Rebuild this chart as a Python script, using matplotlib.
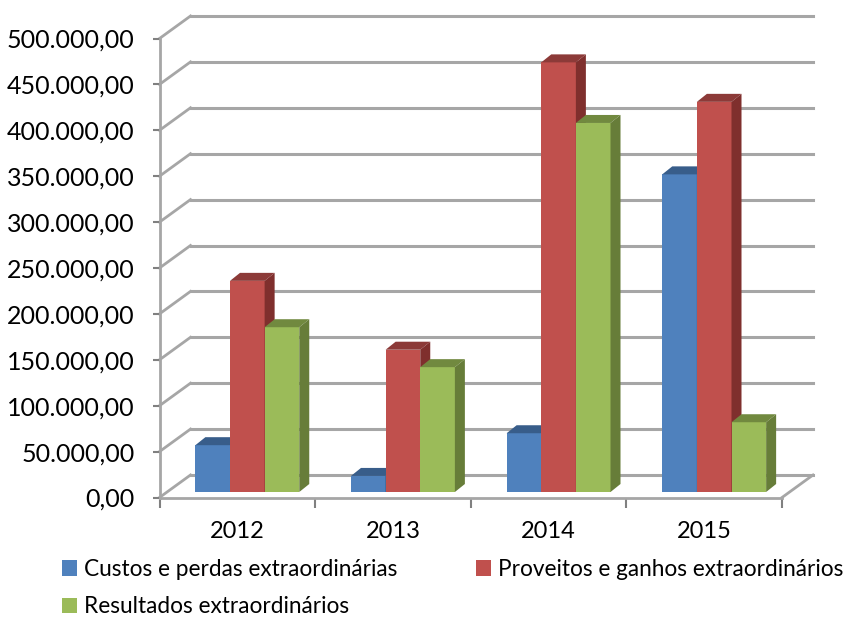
import matplotlib
matplotlib.use("Agg")
from matplotlib import pyplot as plt
from matplotlib.patches import Polygon
from matplotlib.transforms import Affine2D, IdentityTransform

years = ["2012", "2013", "2014", "2015"]
custos = [51000, 17500, 64000, 346000]
proveitos = [230000, 155000, 468000, 425000]
resultados = [179500, 136000, 402000, 76000]
names = ["Custos e perdas extraordinárias", "Proveitos e ganhos extraordinários", "Resultados extraordinários"]
y_ticks = list(range(0, 500001, 50000))

colors = ["#4F81BD", "#C0504D", "#9BBB59"]
top_colors = ["#385D8A", "#8C3A38", "#71893F"]
side_colors = ["#2F5077", "#7F2F2D", "#677D39"]
grid_color = "#A6A6A6"

W, H = 846, 617
plt.rcParams["font.family"] = ["Lato", "DejaVu Sans"]

fig = plt.figure(figsize=(W / 100, H / 100), dpi=100)
ax = fig.add_axes([159.5 / W, 1 - 497.5 / H, 622.5 / W, 459 / H])
ax.set_xlim(-0.5, 3.5)
ax.set_ylim(0, 500000)

# pseudo 3d: everything is shifted in pixels from the data position
wall_dx, wall_dy = 31, 22.5
bar_dx, bar_dy = 10, 5.5
depth_dx, depth_dy = 10, 8
wall = ax.transData + Affine2D().translate(wall_dx, wall_dy)
front = ax.transData + Affine2D().translate(bar_dx, bar_dy)
pixels = IdentityTransform()

# back wall grid
for t in y_ticks:
    ax.plot([-0.5, 3.5], [t, t], color=grid_color, lw=2.2, transform=wall, clip_on=False, zorder=1)
    x0, y0 = ax.transData.transform((-0.5, t))
    ax.plot([x0, x0 + wall_dx], [y0, y0 + wall_dy], color=grid_color, lw=2, transform=pixels, clip_on=False, zorder=1)
# right edge of the floor
x0, y0 = ax.transData.transform((3.5, 0))
ax.plot([x0, x0 + wall_dx], [y0, y0 + wall_dy], color=grid_color, lw=2, transform=pixels, clip_on=False, zorder=1)

# bars, left to right so each one covers the side of the one before
width = 0.2225
z = 3
for i in range(len(years)):
    for j, values in enumerate([custos, proveitos, resultados]):
        xpos = i + (j - 1) * width
        val = values[i]
        ax.bar(xpos, val, width, color=colors[j], transform=front, clip_on=False, zorder=z)
        (xl, yb), (xr, yt) = front.transform([(xpos - width / 2, 0), (xpos + width / 2, val)])
        top = [(xl, yt), (xr, yt), (xr + depth_dx, yt + depth_dy), (xl + depth_dx, yt + depth_dy)]
        side = [(xr, yb), (xr, yt), (xr + depth_dx, yt + depth_dy), (xr + depth_dx, yb + depth_dy)]
        ax.add_patch(Polygon(top, color=top_colors[j], lw=0, transform=pixels, clip_on=False, zorder=z))
        ax.add_patch(Polygon(side, color=side_colors[j], lw=0, transform=pixels, clip_on=False, zorder=z))
        z += 1

for s in ["top", "right"]:
    ax.spines[s].set_visible(False)
for s in ["left", "bottom"]:
    ax.spines[s].set_color(grid_color)
    ax.spines[s].set_linewidth(2)
    ax.spines[s].set_zorder(2)

ax.set_yticks(y_ticks)
ax.set_yticklabels([f"{t:,.2f}".replace(",", "#").replace(".", ",").replace("#", ".") for t in y_ticks], fontsize=18, color="black")
ax.tick_params(axis="y", length=5, width=1.5, color="#808080", pad=13)

# ticks between the categories, labels in the middle
ax.set_xticks([-0.5, 0.5, 1.5, 2.5, 3.5])
ax.set_xticklabels([])
ax.set_xticks(range(len(years)), labels=years, minor=True)
ax.tick_params(axis="x", which="major", length=7, width=1.5, color="#808080")
ax.tick_params(axis="x", which="minor", length=0, pad=17, labelsize=17, labelcolor="black")

# legend fills column by column, so the order is blue, green, red
handles = [ax.patches[0], ax.patches[6], ax.patches[3]]
ax.legend(handles, [names[0], names[2], names[1]], ncol=2, frameon=False,
          loc="upper left", bbox_to_anchor=(62 / W, 1 - 559 / H), bbox_transform=fig.transFigure,
          fontsize=16.3, handlelength=0.66, handleheight=0.66, handletextpad=0.3,
          columnspacing=3.5, labelspacing=0.72, borderpad=0, borderaxespad=0)

fig.savefig("out.png", dpi=100)
